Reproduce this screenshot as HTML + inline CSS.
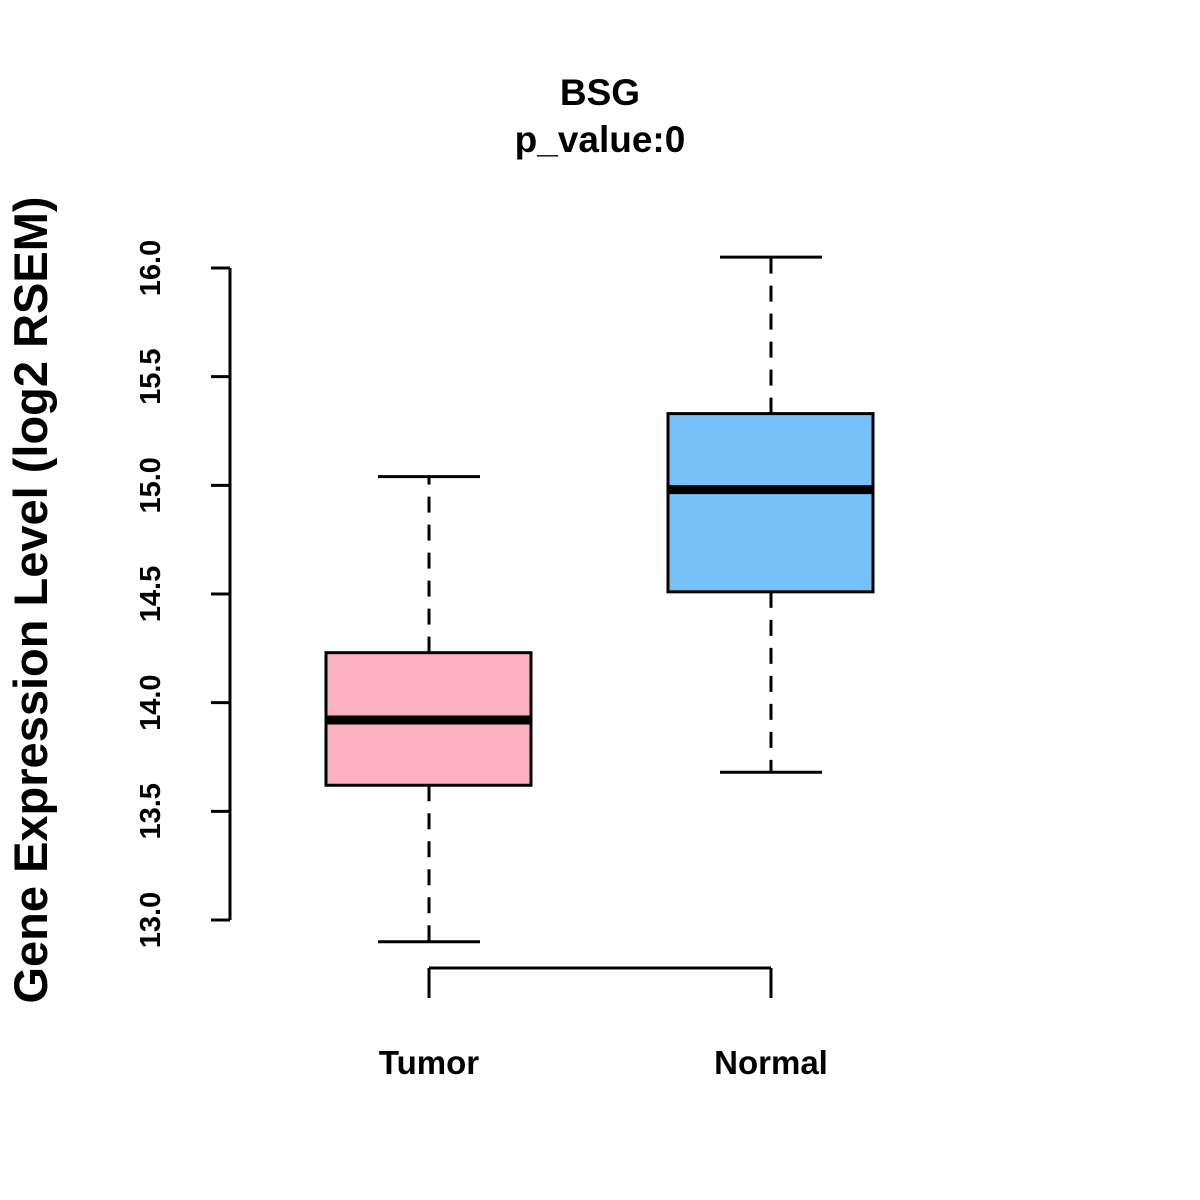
<!DOCTYPE html>
<html><head><meta charset="utf-8"><style>body{margin:0;background:#fff}svg{display:block}</style></head>
<body>
<svg id="chart" width="1200" height="1200" xmlns="http://www.w3.org/2000/svg" font-family="Liberation Sans, sans-serif" font-weight="bold">
<text x="600" y="105" text-anchor="middle" font-size="37">BSG</text>
<text x="600" y="152" text-anchor="middle" font-size="37">p_value:0</text>
<text transform="translate(47,600) rotate(-90)" text-anchor="middle" font-size="47">Gene Expression Level (log2 RSEM)</text>
<g id="g"></g>
</svg>
<script>
const categories = ["Tumor","Normal"];
const lowWhisker = [12.9, 13.68];
const q1 = [13.62, 14.51];
const median = [13.92, 14.98];
const q3 = [14.23, 15.33];
const highWhisker = [15.04, 16.05];
const fills = ["#FCB1C3","#76C1F8"];
const yTicks = [13.0,13.5,14.0,14.5,15.0,15.5,16.0];
const yTickLabels = ["13.0","13.5","14.0","14.5","15.0","15.5","16.0"];

const NS="http://www.w3.org/2000/svg";
const g=document.getElementById('g');
const y=v=>920-(v-13)*(652/3);
const x=i=>429+i*342;
function mk(t,a){const e=document.createElementNS(NS,t);for(const k in a)e.setAttribute(k,a[k]);g.appendChild(e);return e;}
const S={stroke:"#000","stroke-width":3,fill:"none"};
let ax=mk('line',Object.assign({x1:230,x2:230,y1:y(yTicks[0]),y2:y(yTicks[yTicks.length-1])},S));


yTicks.forEach((v,i)=>{
 let t=mk('line',Object.assign({x1:211,x2:230,y1:y(v),y2:y(v)},S));
 
 
 let l=mk('text',{transform:`translate(160,${y(v)}) rotate(-90)`,"text-anchor":"middle","font-size":29});
 l.textContent=yTickLabels[i];
 
 
});
let xa=mk('line',Object.assign({x1:x(0),x2:x(categories.length-1),y1:968,y2:968},S));


categories.forEach((c,i)=>{
 const cx=x(i);
 let t=mk('line',Object.assign({x1:cx,x2:cx,y1:968,y2:998},S));
 
 
 let l=mk('text',{x:cx,y:1074,"text-anchor":"middle","font-size":33});
 l.textContent=c;
 
 
 const D={stroke:"#000","stroke-width":3,"stroke-dasharray":"16,12"};
 let w1=mk('line',Object.assign({x1:cx,x2:cx,y1:y(q3[i]),y2:y(highWhisker[i])},D));
 
 
 let w2=mk('line',Object.assign({x1:cx,x2:cx,y1:y(q1[i]),y2:y(lowWhisker[i])},D));
 
 
 let c1=mk('line',Object.assign({x1:cx-51,x2:cx+51,y1:y(highWhisker[i]),y2:y(highWhisker[i])},S));
 
 
 let c2=mk('line',Object.assign({x1:cx-51,x2:cx+51,y1:y(lowWhisker[i]),y2:y(lowWhisker[i])},S));
 
 
 let b=mk('rect',{x:cx-103,width:205,y:y(q3[i]),height:y(q1[i])-y(q3[i]),fill:fills[i],stroke:"#000","stroke-width":3});
 
 
 let m=mk('line',{x1:cx-103,x2:cx+102,y1:y(median[i]),y2:y(median[i]),stroke:"#000","stroke-width":9});
 
 
});
</script>
</body></html>
